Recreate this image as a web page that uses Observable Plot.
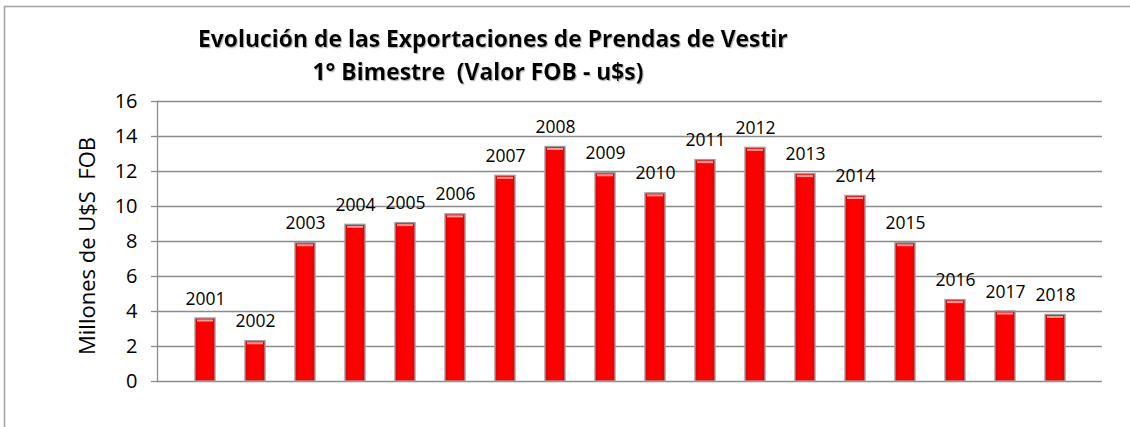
<!DOCTYPE html>
<html><head><meta charset="utf-8">
<script src="https://cdn.jsdelivr.net/npm/d3@7"></script>
<script src="https://cdn.jsdelivr.net/npm/@observablehq/plot@0.6"></script>
<style>body{margin:0;background:#fff} svg{display:block}</style>
</head><body><div id="chart"></div>
<script>
const years = ["2001","2002","2003","2004","2005","2006","2007","2008","2009","2010","2011","2012","2013","2014","2015","2016","2017","2018"];
const values = [3.6, 2.3, 7.9, 8.95, 9.05, 9.55, 11.75, 13.4, 11.9, 10.75, 12.65, 13.35, 11.85, 10.6, 7.9, 4.65, 4.0, 3.8];
const yTicks = [0, 2, 4, 6, 8, 10, 12, 14, 16];
const titleLine1 = "Evolución de las Exportaciones de Prendas de Vestir";
const titleLine2 = "1° Bimestre  (Valor FOB - u$s)";
const yLabel = "Millones de U$S  FOB";

const data = years.map((y, i) => ({year: y, value: values[i]}));
const font = "'Open Sans', 'Noto Sans', sans-serif";
const gray = "#8c8c8c";

const chart = Plot.plot({
  width: 1130, height: 427,
  marginLeft: 157, marginRight: 28, marginTop: 101, marginBottom: 46,
  style: {fontFamily: font, fontSize: "19px", color: "#000", background: "#fff", overflow: "visible"},
  x: {domain: years, padding: 0.6, axis: null},
  y: {domain: [0, 16], label: null},
  marks: [
    Plot.gridY(yTicks, {stroke: gray, strokeOpacity: 1, strokeWidth: 1.3}),
    Plot.frame({anchor: "left", stroke: gray, strokeWidth: 1.3}),
    Plot.axisY(yTicks, {tickSize: 6, tickPadding: 14, stroke: gray, strokeWidth: 1.3, fill: "#000", fontSize: 20, label: null}),
    Plot.barY(data, {x: "year", y: "value", fill: "url(#barGrad)", stroke: "#9c9c9c", strokeWidth: 1.4}),
    Plot.tickY(data, {x: "year", y: "value", stroke: "#ff9a9a", strokeWidth: 2, dy: 2, inset: 2}),
    Plot.text(data, {x: "year", y: "value", text: "year", lineAnchor: "bottom", dy: -14, fontSize: 17.5, fill: "#000"})
  ]
});
document.getElementById("chart").appendChild(chart);

const svg = d3.select(chart);
const defs = svg.insert("defs", ":first-child");
const g = defs.append("linearGradient").attr("id", "barGrad").attr("x1", 0).attr("x2", 1).attr("y1", 0).attr("y2", 0);
g.append("stop").attr("offset", "0%").attr("stop-color", "#e00000");
g.append("stop").attr("offset", "25%").attr("stop-color", "#ff0000");
g.append("stop").attr("offset", "75%").attr("stop-color", "#ff0000");
g.append("stop").attr("offset", "100%").attr("stop-color", "#e00000");
const f = defs.append("filter").attr("id", "tshadow").attr("x", "-5%").attr("y", "-20%").attr("width", "110%").attr("height", "150%");
f.append("feDropShadow").attr("dx", 1).attr("dy", 1.2).attr("stdDeviation", 0.6).attr("flood-color", "#999").attr("flood-opacity", 0.7);

// border
svg.insert("rect", "defs + *").attr("x", 4.5).attr("y", 6.5).attr("width", 1300).attr("height", 600)
  .attr("fill", "none").attr("stroke", "#a6a6a6").attr("stroke-width", 1.6);

function fitText(sel, target) {
  const node = sel.node();
  const len = node.getComputedTextLength();
  const fs = parseFloat(sel.attr("font-size"));
  if (len > 0) sel.attr("font-size", (fs * target / len).toFixed(2));
}
const t1 = svg.append("text").attr("x", 198).attr("y", 47).attr("text-anchor", "start").attr("font-family", font).attr("font-weight", "bold")
  .attr("font-size", 19).attr("filter", "url(#tshadow)").text(titleLine1);
fitText(t1, 590);
const t2 = svg.append("text").attr("x", 478).attr("y", 80).attr("text-anchor", "middle").attr("font-family", font).attr("font-weight", "bold")
  .attr("font-size", t1.attr("font-size")).attr("filter", "url(#tshadow)").style("white-space", "pre").text(titleLine2);
const yl = svg.append("text").attr("transform", "translate(95,246) rotate(-90)").attr("text-anchor", "middle")
  .attr("font-family", font).attr("font-size", 19).style("white-space", "pre").text(yLabel);
fitText(yl, 218);
</script></body></html>
